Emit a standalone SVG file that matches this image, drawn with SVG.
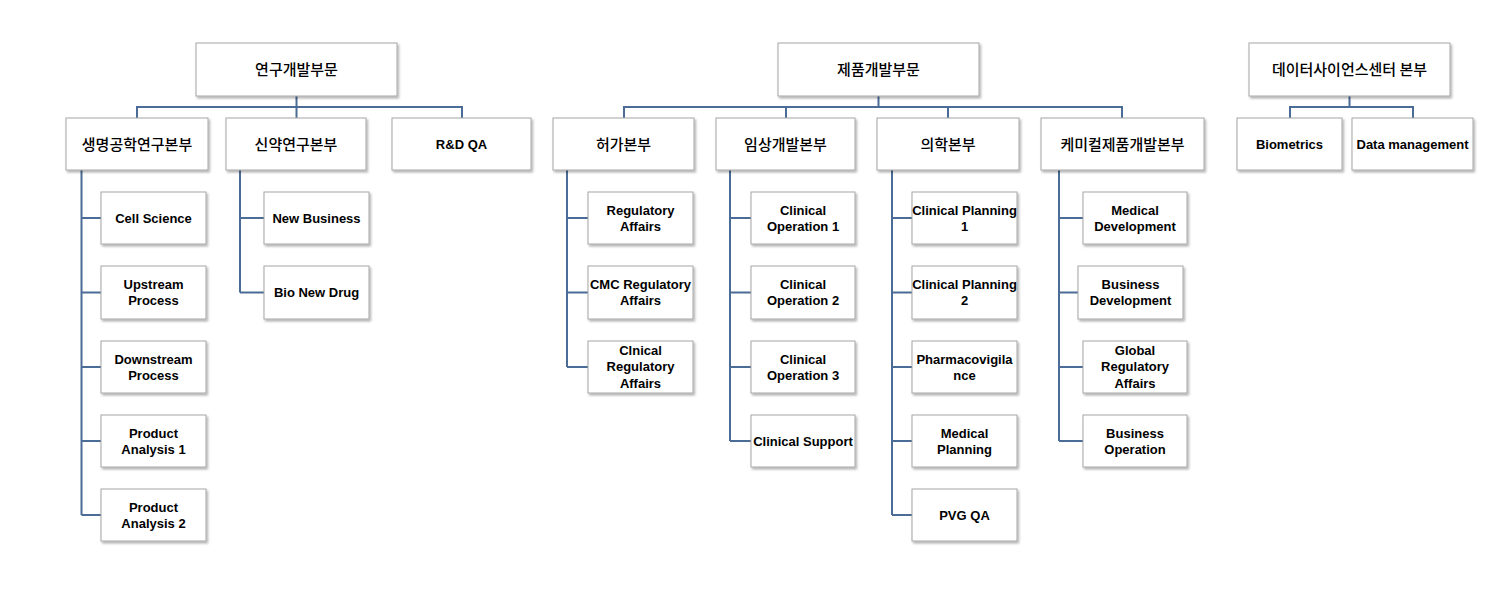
<svg xmlns="http://www.w3.org/2000/svg" width="1497" height="589" viewBox="0 0 1497 589">
<style>
.b{fill:#fff;stroke:#a6a6a6;stroke-width:1;filter:url(#sh)}
.k{font-family:"Noto Sans CJK KR","Noto Sans",sans-serif;font-size:15px;font-weight:500;fill:#000;text-anchor:middle}
.e{font-family:"Liberation Sans",Arial,sans-serif;font-size:13px;font-weight:bold;fill:#000;text-anchor:middle}
.c{fill:none;stroke:#4a6c96;stroke-width:2}
</style>
<defs>
<filter id="sh" x="-10%" y="-10%" width="130%" height="140%">
<feDropShadow dx="1.5" dy="2" stdDeviation="1.2" flood-color="#000" flood-opacity="0.3"/>
</filter>
</defs>
<rect width="1497" height="589" fill="#fff"/>
<g id="connectors" class="c">
<path d="M296.5 96V107M137 118V107H462V118M296.5 107V118"/>
<path d="M81.5 170V515M81.5 218H101M81.5 292.5H101M81.5 367H101M81.5 441H101M81.5 515H101"/>
<path d="M240 170V292.5M240 218H264M240 292.5H264"/>
<path d="M878.5 96V107M624 118V107H1122V118M786 107V118M948 107V118"/>
<path d="M567 170V367M567 218H588M567 292.5H588M567 367H588"/>
<path d="M730 170V441M730 218H751M730 292.5H751M730 367H751M730 441H751"/>
<path d="M892 170V515M892 218H912M892 292.5H912M892 367H912M892 441H912M892 515H912"/>
<path d="M1059 170V441M1059 218H1083M1059 292.5H1078M1059 367H1083M1059 441H1083"/>
<path d="M1349.5 96V107M1290 118V107H1413V118"/>
</g>
<g id="n-rnd"><rect class="b" x="196" y="43" width="201" height="53"/><text class="k" x="296.5" y="75">연구개발부문</text></g>
<g id="n-bio"><rect class="b" x="66" y="118" width="142" height="52"/><text class="k" x="137" y="149.5">생명공학연구본부</text></g>
<g id="n-newdrug"><rect class="b" x="226" y="118" width="140" height="52"/><text class="k" x="296" y="149.5">신약연구본부</text></g>
<g id="n-rdqa"><rect class="b" x="392" y="118" width="139" height="52"/><text class="e" x="461.5" y="148.5">R&amp;D QA</text></g>
<g id="n-cell"><rect class="b" x="101" y="192" width="105" height="52"/><text class="e" x="153.5" y="222.5">Cell Science</text></g>
<g id="n-up"><rect class="b" x="101" y="266" width="105" height="53"/><text class="e" x="153.5" y="289"><tspan x="153.5">Upstream</tspan><tspan x="153.5" dy="16">Process</tspan></text></g>
<g id="n-down"><rect class="b" x="101" y="341" width="105" height="52"/><text class="e" x="153.5" y="363.5"><tspan x="153.5">Downstream</tspan><tspan x="153.5" dy="16">Process</tspan></text></g>
<g id="n-pa1"><rect class="b" x="101" y="415" width="105" height="52"/><text class="e" x="153.5" y="437.5"><tspan x="153.5">Product</tspan><tspan x="153.5" dy="16">Analysis 1</tspan></text></g>
<g id="n-pa2"><rect class="b" x="101" y="489" width="105" height="52"/><text class="e" x="153.5" y="511.5"><tspan x="153.5">Product</tspan><tspan x="153.5" dy="16">Analysis 2</tspan></text></g>
<g id="n-newbiz"><rect class="b" x="264" y="192" width="105" height="52"/><text class="e" x="316.5" y="222.5">New Business</text></g>
<g id="n-bionew"><rect class="b" x="264" y="266" width="105" height="53"/><text class="e" x="316.5" y="297">Bio New Drug</text></g>

<g id="n-prod"><rect class="b" x="778" y="43" width="201" height="53"/><text class="k" x="878.5" y="75">제품개발부문</text></g>
<g id="n-reg"><rect class="b" x="553" y="118" width="141" height="52"/><text class="k" x="623.5" y="149.5">허가본부</text></g>
<g id="n-clin"><rect class="b" x="716" y="118" width="139" height="52"/><text class="k" x="785.5" y="149.5">임상개발본부</text></g>
<g id="n-med"><rect class="b" x="877" y="118" width="142" height="52"/><text class="k" x="948" y="149.5">의학본부</text></g>
<g id="n-chem"><rect class="b" x="1041" y="118" width="163" height="52"/><text class="k" x="1122.5" y="149.5">케미컬제품개발본부</text></g>

<g id="n-ra"><rect class="b" x="588" y="192" width="105" height="52"/><text class="e" x="640.5" y="214.5"><tspan x="640.5">Regulatory</tspan><tspan x="640.5" dy="16">Affairs</tspan></text></g>
<g id="n-cmc"><rect class="b" x="588" y="266" width="105" height="53"/><text class="e" x="640.5" y="289"><tspan x="640.5">CMC Regulatory</tspan><tspan x="640.5" dy="16">Affairs</tspan></text></g>
<g id="n-cra"><rect class="b" x="588" y="341" width="105" height="52"/><text class="e" x="640.5" y="355"><tspan x="640.5">Clnical</tspan><tspan x="640.5" dy="16.3">Regulatory</tspan><tspan x="640.5" dy="16.3">Affairs</tspan></text></g>

<g id="n-co1"><rect class="b" x="751" y="192" width="104" height="52"/><text class="e" x="803" y="214.5"><tspan x="803">Clinical</tspan><tspan x="803" dy="16">Operation 1</tspan></text></g>
<g id="n-co2"><rect class="b" x="751" y="266" width="104" height="53"/><text class="e" x="803" y="289"><tspan x="803">Clinical</tspan><tspan x="803" dy="16">Operation 2</tspan></text></g>
<g id="n-co3"><rect class="b" x="751" y="341" width="104" height="52"/><text class="e" x="803" y="363.5"><tspan x="803">Clinical</tspan><tspan x="803" dy="16">Operation 3</tspan></text></g>
<g id="n-cs"><rect class="b" x="751" y="415" width="104" height="52"/><text class="e" x="803" y="445.5">Clinical Support</text></g>

<g id="n-cp1"><rect class="b" x="912" y="192" width="105" height="52"/><text class="e" x="964.5" y="214.5"><tspan x="964.5">Clinical Planning</tspan><tspan x="964.5" dy="16">1</tspan></text></g>
<g id="n-cp2"><rect class="b" x="912" y="266" width="105" height="53"/><text class="e" x="964.5" y="289"><tspan x="964.5">Clinical Planning</tspan><tspan x="964.5" dy="16">2</tspan></text></g>
<g id="n-pv"><rect class="b" x="912" y="341" width="105" height="52"/><text class="e" x="964.5" y="363.5"><tspan x="964.5">Pharmacovigila</tspan><tspan x="964.5" dy="16">nce</tspan></text></g>
<g id="n-mp"><rect class="b" x="912" y="415" width="105" height="52"/><text class="e" x="964.5" y="437.5"><tspan x="964.5">Medical</tspan><tspan x="964.5" dy="16">Planning</tspan></text></g>
<g id="n-pvgqa"><rect class="b" x="912" y="489" width="105" height="52"/><text class="e" x="964.5" y="519.5">PVG QA</text></g>

<g id="n-md"><rect class="b" x="1083" y="192" width="104" height="52"/><text class="e" x="1135" y="214.5"><tspan x="1135">Medical</tspan><tspan x="1135" dy="16">Development</tspan></text></g>
<g id="n-bd"><rect class="b" x="1078" y="266" width="105" height="53"/><text class="e" x="1130.5" y="289"><tspan x="1130.5">Business</tspan><tspan x="1130.5" dy="16">Development</tspan></text></g>
<g id="n-gra"><rect class="b" x="1083" y="341" width="104" height="52"/><text class="e" x="1135" y="355"><tspan x="1135">Global</tspan><tspan x="1135" dy="16.3">Regulatory</tspan><tspan x="1135" dy="16.3">Affairs</tspan></text></g>
<g id="n-bo"><rect class="b" x="1083" y="415" width="104" height="52"/><text class="e" x="1135" y="437.5"><tspan x="1135">Business</tspan><tspan x="1135" dy="16">Operation</tspan></text></g>

<g id="n-ds"><rect class="b" x="1249" y="43" width="201" height="53"/><text class="k" x="1349.5" y="75">데이터사이언스센터 본부</text></g>
<g id="n-biom"><rect class="b" x="1237" y="118" width="105" height="52"/><text class="e" x="1289.5" y="148.5">Biometrics</text></g>
<g id="n-dm"><rect class="b" x="1352" y="118" width="121" height="52"/><text class="e" x="1412.5" y="148.5">Data management</text></g>
</svg>
